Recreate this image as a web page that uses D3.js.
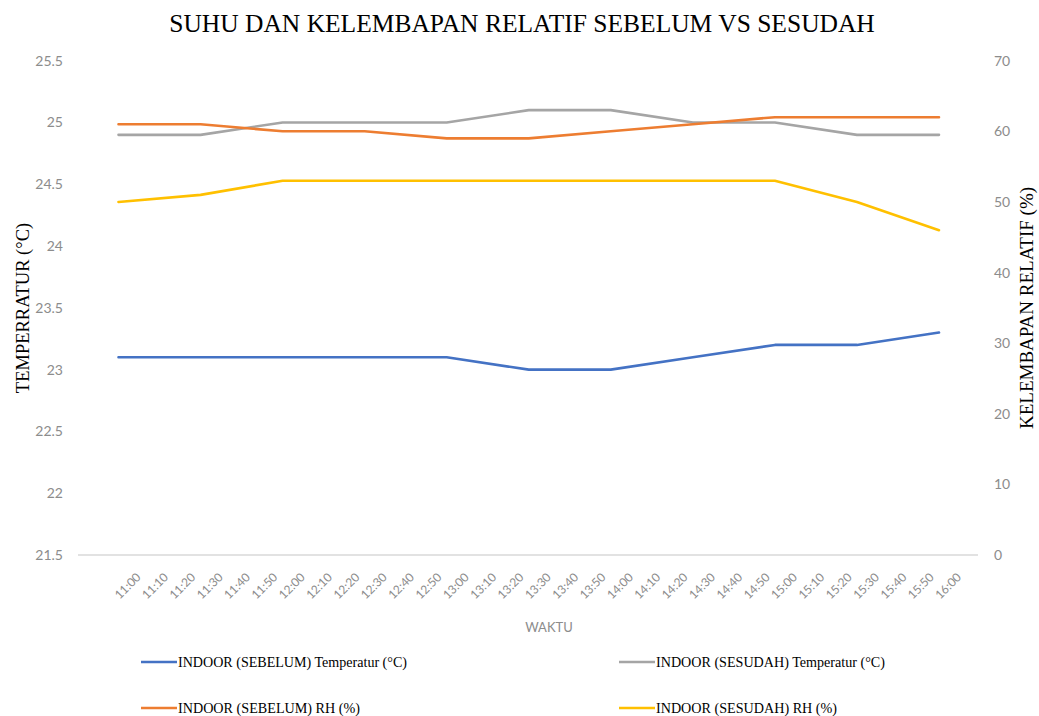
<!DOCTYPE html>
<html>
<head>
<meta charset="utf-8">
<script src="https://cdn.jsdelivr.net/npm/d3@7"></script>
<style>
  html, body { margin: 0; padding: 0; background: #fff; }
  svg { display: block; }
</style>
</head>
<body>
<svg id="chart" width="1039" height="716"></svg>
<script>
// ---- data ----
const timeLabels = ["11:00","11:10","11:20","11:30","11:40","11:50","12:00","12:10","12:20","12:30","12:40","12:50",
  "13:00","13:10","13:20","13:30","13:40","13:50","14:00","14:10","14:20","14:30","14:40","14:50",
  "15:00","15:10","15:20","15:30","15:40","15:50","16:00"];
const dataTimes = ["11:00","11:30","12:00","12:30","13:00","13:30","14:00","14:30","15:00","15:30","16:00"];
const tempSebelum = [23.1, 23.1, 23.1, 23.1, 23.1, 23.0, 23.0, 23.1, 23.2, 23.2, 23.3];
const tempSesudah = [24.9, 24.9, 25.0, 25.0, 25.0, 25.1, 25.1, 25.0, 25.0, 24.9, 24.9];
const rhSebelum   = [61, 61, 60, 60, 59, 59, 60, 61, 62, 62, 62];
const rhSesudah   = [50, 51, 53, 53, 53, 53, 53, 53, 53, 50, 46];
const leftTicks  = [21.5, 22, 22.5, 23, 23.5, 24, 24.5, 25, 25.5];
const rightTicks = [0, 10, 20, 30, 40, 50, 60, 70];
const seriesNames = ["INDOOR (SEBELUM) Temperatur (°C)", "INDOOR (SESUDAH) Temperatur (°C)",
                     "INDOOR (SEBELUM) RH (%)", "INDOOR (SESUDAH) RH (%)"];

// ---- layout ----
const svg = d3.select("#chart");
svg.append("rect").attr("width", 1039).attr("height", 716).attr("fill", "#fff");
const plotLeft = 78, plotRight = 978, plotTop = 60.7, plotBottom = 555;
const tickColor = "#8c8c8c";
const sansFont = "Lato, 'Open Sans', sans-serif";
const serifFont = "'Liberation Serif', 'DejaVu Serif', serif";

const x = d3.scalePoint().domain(timeLabels).range([118.5, 939]);
const yL = d3.scaleLinear().domain([21.5, 25.5]).range([plotBottom, plotTop]);
const yR = d3.scaleLinear().domain([0, 70]).range([plotBottom, plotTop]);

// title
svg.append("text").attr("x", 522).attr("y", 32).attr("text-anchor", "middle")
  .attr("font-family", serifFont).attr("font-size", 25.5).attr("fill", "#000")
  .text("SUHU DAN KELEMBAPAN RELATIF SEBELUM VS SESUDAH");

// x axis
const xAxis = svg.append("g").attr("transform", `translate(0,${plotBottom})`)
  .call(d3.axisBottom(x).tickSize(0));
xAxis.select(".domain").attr("stroke", "#d9d9d9").attr("stroke-width", 1.3)
  .attr("d", `M${plotLeft},0H${plotRight}`);
xAxis.selectAll("text")
  .attr("x", 0).attr("y", 0).attr("dy", 0)
  .attr("text-anchor", "end")
  .attr("transform", "translate(22.5,23) rotate(-45)")
  .attr("font-family", sansFont).attr("font-size", 12).attr("fill", tickColor);

// left axis
const lAxis = svg.append("g").attr("transform", `translate(${plotLeft},0)`)
  .call(d3.axisLeft(yL).tickValues(leftTicks).tickSize(0).tickPadding(15).tickFormat(d => String(d)));
lAxis.select(".domain").remove();
lAxis.selectAll("text").attr("font-family", sansFont).attr("font-size", 14).attr("fill", tickColor);

// right axis
const rAxis = svg.append("g").attr("transform", `translate(${plotRight},0)`)
  .call(d3.axisRight(yR).tickValues(rightTicks).tickSize(0).tickPadding(16).tickFormat(d => String(d)));
rAxis.select(".domain").remove();
rAxis.selectAll("text").attr("font-family", sansFont).attr("font-size", 14).attr("fill", tickColor);

// axis titles
svg.append("text").attr("transform", "translate(23,308) rotate(-90)")
  .attr("text-anchor", "middle").attr("dy", "0.35em")
  .attr("font-family", serifFont).attr("font-size", 18.5).attr("fill", "#000")
  .text("TEMPERRATUR (°C)");
svg.append("text").attr("transform", "translate(1026,308) rotate(-90)")
  .attr("text-anchor", "middle").attr("dy", "0.35em")
  .attr("font-family", serifFont).attr("font-size", 19).attr("fill", "#000")
  .text("KELEMBAPAN RELATIF (%)");
svg.append("text").attr("x", 549).attr("y", 632).attr("text-anchor", "middle")
  .attr("font-family", sansFont).attr("font-size", 13).attr("fill", tickColor)
  .text("WAKTU");

// series
const series = [
  { name: seriesNames[0], vals: tempSebelum, y: yL, color: "#4472C4" },
  { name: seriesNames[1], vals: tempSesudah, y: yL, color: "#A5A5A5" },
  { name: seriesNames[2], vals: rhSebelum,   y: yR, color: "#ED7D31" },
  { name: seriesNames[3], vals: rhSesudah,   y: yR, color: "#FFC000" }
];
series.forEach(s => {
  const line = d3.line().x((d, j) => x(dataTimes[j])).y(d => s.y(d));
  svg.append("path").datum(s.vals).attr("d", line)
    .attr("fill", "none").attr("stroke", s.color).attr("stroke-width", 2.6)
    .attr("stroke-linejoin", "round").attr("stroke-linecap", "round");
});

// legend
const legendPos = [
  { lx: 141, ty: 662, w: 229 }, { lx: 619, ty: 662, w: 229 },
  { lx: 141, ty: 708, w: 182 }, { lx: 619, ty: 708, w: 181 }
];
series.forEach((s, i) => {
  const p = legendPos[i];
  const g = svg.append("g");
  g.append("line").attr("x1", p.lx).attr("x2", p.lx + 36).attr("y1", p.ty).attr("y2", p.ty)
    .attr("stroke", s.color).attr("stroke-width", 2.6);
  g.append("text").attr("x", p.lx + 37).attr("y", p.ty).attr("dy", "0.33em")
    .attr("font-family", serifFont).attr("font-size", 14).attr("fill", "#000")
    .attr("textLength", p.w).attr("lengthAdjust", "spacingAndGlyphs")
    .text(s.name);
});
</script>
</body>
</html>
